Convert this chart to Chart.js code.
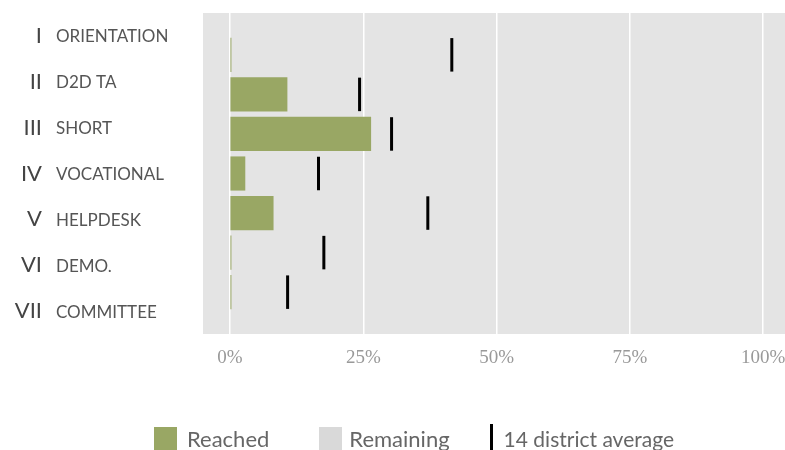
<!DOCTYPE html>
<html>
<head>
<meta charset="utf-8">
<script src="https://cdn.jsdelivr.net/npm/chart.js@4.4.1/dist/chart.umd.min.js"></script>
<style>
  html, body { margin: 0; padding: 0; background: #fff; }
  #wrap { position: relative; width: 785px; height: 450px; overflow: hidden; }
  #legend { position: absolute; left: 154px; top: 424px; display: flex; align-items: center;
            font-family: Lato, sans-serif; font-size: 22px; color: #666; white-space: nowrap; }
  .sw { width: 23px; height: 23px; }
  .tick { width: 3px; height: 28px; background: #000; }
</style>
</head>
<body>
<div id="wrap">
  <canvas id="chart" width="785" height="450"></canvas>
  <div id="legend">
    <div class="sw" style="background:#99a764;margin-right:10px"></div><span style="margin-right:50px">Reached</span>
    <div class="sw" style="background:#d9d9d9;margin-right:7px"></div><span style="margin-right:40px">Remaining</span>
    <div class="tick" style="margin-right:11px"></div><span style="font-size:21px">14 district average</span>
  </div>
</div>
<script>
// 数据
const numerals = ['I', 'II', 'III', 'IV', 'V', 'VI', 'VII'];
const categories = ['Orientation', 'D2D TA', 'Short', 'Vocational', 'Helpdesk', 'Demo.', 'Committee'];
const reached = [0.2, 10.7, 26.4, 2.8, 8.1, 0.2, 0.2];      // %
const districtAvg = [41.6, 24.3, 30.3, 16.6, 37.1, 17.6, 10.8]; // %
const xTicks = [0, 25, 50, 75, 100];

// 灰色背景
const bgPlugin = {
    id: 'bg',
    beforeDraw(chart) {
        const { ctx, chartArea: a } = chart;
        ctx.save();
        ctx.fillStyle = '#e4e4e4';
        ctx.fillRect(a.left, a.top, a.right - a.left, a.bottom - a.top);
        ctx.restore();
    }
};

// 左侧标签：罗马数字 + 类别名
const labelPlugin = {
    id: 'rowLabels',
    afterDraw(chart) {
        const { ctx, chartArea: a } = chart;
        const step = (a.bottom - a.top) / categories.length;
        ctx.save();
        ctx.textBaseline = 'middle';
        categories.forEach((c, i) => {
            const y = a.top + (i + 0.5) * step;
            ctx.font = '22px Lato';
            ctx.fillStyle = '#444';
            ctx.textAlign = 'right';
            ctx.fillText(numerals[i], 42, y);
            ctx.font = '17px Lato';
            ctx.fillStyle = '#555';
            ctx.textAlign = 'left';
            ctx.fillText(c.toUpperCase(), 56, y + 1);
        });
        ctx.restore();
    }
};

const ctx = document.getElementById('chart').getContext('2d');
new Chart(ctx, {
    type: 'bar',
    data: {
        datasets: [{
            type: 'scatter',
            label: '14 district average',
            data: districtAvg.map((v, i) => ({ x: v, y: i })),
            pointStyle: 'line',
            rotation: 90,
            radius: 16.75,
            borderColor: '#000',
            borderWidth: 3,
            order: 1
        }, {
            label: 'Reached',
            indexAxis: 'y',
            data: reached.map((v, i) => ({ x: v, y: i })),
            backgroundColor: '#99a764',
            barThickness: 33.5,
            order: 2
        }]
    },
    options: {
        indexAxis: 'y',
        responsive: false,
        animation: false,
        events: [],
        layout: { autoPadding: false, padding: { left: 203, top: 13, right: 0, bottom: 76 } },
        plugins: { legend: { display: false }, tooltip: { enabled: false } },
        scales: {
            x: {
                type: 'linear',
                min: -5.07,
                max: 104.1,
                afterBuildTicks: s => { s.ticks = xTicks.map(v => ({ value: v })); },
                afterFit: s => { s.height = 40; s.paddingLeft = 0; s.paddingRight = 0; },
                grid: { color: '#ffffff', lineWidth: 1.5, drawTicks: false },
                border: { display: false },
                ticks: {
                    padding: 13,
                    color: '#999',
                    font: { family: 'Liberation Serif', size: 19 },
                    callback: v => v + '%'
                }
            },
            y: {
                type: 'linear',
                min: -0.607,
                max: 6.607,
                reverse: true,
                display: false,
                ticks: { display: false }
            }
        }
    },
    plugins: [bgPlugin, labelPlugin]
});
</script>
</body>
</html>
